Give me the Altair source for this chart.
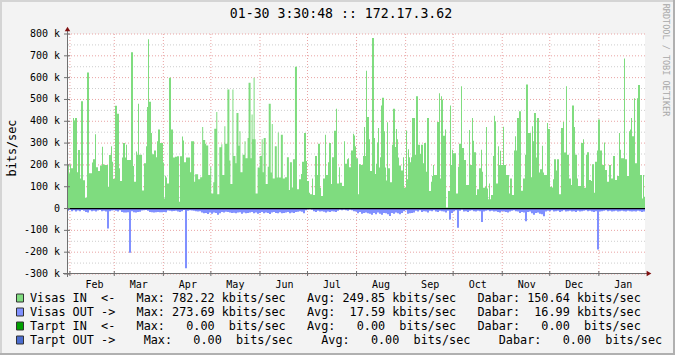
import altair as alt
import pandas as pd

TITLE = "01-30 3:30:48 :: 172.17.3.62"
Y_TITLE = "bits/sec"
WATERMARK = "RRDTOOL / TOBI OETIKER"
MONO = "DejaVu Sans Mono"

# time span of each block of readings (one block ~ 73 days)
PERIOD_EDGES = ["2010-01-30T03:30:48", "2010-04-13T09:30:00", "2010-06-25T15:30:00",
                "2010-09-06T21:30:00", "2010-11-19T03:30:00", "2011-01-30T03:30:48"]

# Visas IN (kbits/sec), read left to right
IN_BLOCK_1 = [238, 200, 162, 203, 185, 185, 415, 403, 415, 415, 166, 268, 268, 138, 492, 492, 130, 130, 49, 49,
              623, 623, 162, 162, 162, 211, 226, 226, 341, 189, 189, 172, 172, 197, 197, 283, 203, 200, 200, 200,
              200, 100, 245, 245, 285, 215, 135, 135, 471, 471, 434, 434, 185, 126, 126, 234, 300, 300, 234, 292,
              222, 222, 222, 222, 716, 716, 195, 123, 123, 262, 246, 480, 246, 246, 246, 83, 83, 208, 208, 285,
              465, 776, 490, 490, 346, 249, 249, 266, 266, 235, 308, 362, 362, 300, 300, 300, 211, 46, 150, 142,
              115, 115, 600, 600, 362, 362, 234, 234, 237, 237, 240, 240, 31, 240, 240, 330]
IN_BLOCK_2 = [312, 212, 212, 234, 234, 234, 234, 166, 308, 308, 308, 123, 157, 157, 157, 134, 134, 143, 143, 374,
              314, 314, 297, 289, 289, 154, 154, 192, 69, 69, 120, 366, 366, 443, 65, 65, 281, 281, 295, 154,
              154, 377, 297, 297, 546, 546, 220, 112, 112, 546, 241, 241, 208, 438, 438, 288, 354, 166, 166, 246,
              246, 308, 231, 231, 323, 577, 577, 231, 431, 318, 600, 318, 69, 69, 188, 188, 241, 241, 318, 166,
              323, 323, 112, 112, 192, 480, 480, 165, 388, 138, 138, 285, 285, 142, 349, 142, 142, 338, 338, 138,
              138, 143, 143, 235, 235, 85, 212, 212, 97, 226, 226, 650, 650, 88, 88]
IN_BLOCK_3 = [134, 134, 158, 215, 215, 346, 346, 218, 126, 126, 72, 66, 66, 138, 62, 62, 241, 241, 154, 297,
              297, 95, 57, 57, 138, 138, 338, 154, 154, 212, 300, 300, 112, 235, 235, 357, 357, 457, 115, 115,
              189, 118, 118, 103, 103, 308, 205, 205, 226, 231, 189, 189, 266, 266, 343, 335, 285, 231, 231, 65,
              203, 203, 200, 200, 241, 374, 241, 631, 420, 420, 318, 172, 172, 782, 782, 323, 158, 205, 303, 369,
              188, 235, 472, 508, 508, 354, 188, 128, 395, 185, 185, 120, 120, 292, 457, 457, 282, 365, 318, 234,
              197, 197, 174, 174, 235, 95, 95, 358, 134, 272, 235, 212, 235, 415, 415, 415]
IN_BLOCK_4 = [246, 515, 515, 292, 292, 251, 292, 292, 208, 300, 300, 169, 415, 415, 80, 80, 123, 149, 200, 154,
              154, 154, 397, 397, 528, 138, 515, 500, 334, 334, 362, 5, 5, 80, 80, 472, 200, 269, 254, 254,
              254, 69, 69, 192, 297, 297, 561, 277, 277, 223, 223, 108, 108, 108, 360, 200, 200, 415, 311, 258,
              258, 62, 88, 88, 185, 185, 269, 169, 95, 95, 100, 374, 92, 43, 115, 43, 62, 62, 241, 425,
              400, 115, 115, 285, 200, 265, 200, 200, 375, 200, 200, 154, 154, 154, 69, 138, 138, 62, 62, 266,
              331, 266, 415, 415, 446, 446, 82, 82, 138, 138, 246, 569, 569, 346, 346, 346]
IN_BLOCK_5 = [143, 377, 308, 438, 438, 234, 415, 415, 165, 180, 180, 288, 165, 154, 154, 154, 392, 365, 365, 100,
              100, 97, 134, 226, 226, 174, 226, 226, 65, 65, 369, 369, 397, 257, 257, 561, 246, 246, 138, 138,
              108, 472, 472, 374, 246, 246, 138, 103, 103, 103, 300, 300, 318, 95, 95, 246, 258, 258, 131, 131,
              126, 203, 203, 72, 215, 215, 266, 408, 408, 266, 266, 200, 200, 303, 177, 177, 123, 123, 200, 200,
              138, 138, 241, 241, 131, 131, 149, 149, 346, 269, 231, 231, 231, 688, 226, 226, 149, 149, 354, 362,
              415, 331, 331, 505, 208, 208, 505, 566, 566, 154, 154, 46, 154, 54]

# Visas OUT (kbits/sec, drawn downwards)
OUT_BLOCK_1 = [10, 6, 12, 8, 14, 9, 12, 7, 10, 16, 18, 8, 12, 10, 14, 9, 7, 12, 10, 14, 92, 12, 9, 8, 10, 13,
               8, 16, 18, 18, 17, 203, 12, 17, 18, 16, 15, 9, 8, 7, 10, 16, 17, 18, 17, 16, 17, 17, 16, 17, 9,
               10, 12, 11, 10, 14, 16, 12]
OUT_BLOCK_2 = [7, 274, 10, 8, 9, 10, 12, 14, 12, 18, 22, 20, 25, 18, 24, 18, 20, 28, 22, 16, 18, 15, 16, 18, 20,
               19, 22, 18, 17, 24, 18, 22, 20, 18, 16, 22, 18, 24, 20, 16, 22, 18, 20, 25, 18, 16, 20, 22, 17,
               22, 20, 18, 16, 22, 18, 20, 16, 15]
OUT_BLOCK_3 = [12, 15, 22, 8, 4, 3, 5, 12, 16, 10, 14, 12, 15, 18, 14, 16, 12, 14, 16, 10, 6, 8, 5, 8, 10, 6,
               8, 12, 14, 22, 16, 24, 20, 18, 22, 24, 28, 20, 26, 18, 24, 28, 20, 22, 26, 34, 20, 24, 18, 22,
               26, 20, 12, 8, 24, 22, 20, 18]
OUT_BLOCK_4 = [10, 14, 8, 16, 12, 14, 18, 10, 12, 8, 14, 16, 10, 12, 14, 18, 10, 50, 20, 12, 8, 88, 10, 6, 14,
               12, 16, 10, 8, 12, 14, 10, 12, 62, 14, 10, 8, 12, 10, 14, 12, 16, 18, 12, 14, 16, 18, 14, 10, 8,
               12, 14, 20, 16, 18, 58, 16, 14]
OUT_BLOCK_5 = [22, 28, 20, 18, 24, 26, 35, 14, 10, 12, 8, 14, 12, 10, 16, 12, 8, 14, 12, 10, 14, 12, 16, 10,
               14, 12, 10, 8, 12, 10, 14, 16, 12, 188, 14, 12, 10, 8, 12, 10, 14, 12, 10, 14, 12, 10, 12, 14,
               10, 12, 14, 12, 14, 10, 12, 16, 14]

Y_MAJOR = [-300, -200, -100, 0, 100, 200, 300, 400, 500, 600, 700, 800]
Y_LABELS = ["-300 k", "-200 k", "-100 k", "0", "100 k", "200 k", "300 k", "400 k", "500 k", "600 k", "700 k",
            "800 k"]
Y_MINOR = [-250, -150, -50, 50, 150, 250, 350, 450, 550, 650, 750]
MONTH_STARTS = ["2010-02-01", "2010-03-01", "2010-04-01", "2010-05-01", "2010-06-01", "2010-07-01",
                "2010-08-01", "2010-09-01", "2010-10-01", "2010-11-01", "2010-12-01", "2011-01-01"]

LEGEND_ROWS = [
    "Visas IN  <-   Max: 782.22 kbits/sec   Avg: 249.85 kbits/sec   Dabar: 150.64 kbits/sec",
    "Visas OUT ->   Max: 273.69 kbits/sec   Avg:  17.59 kbits/sec   Dabar:  16.99 kbits/sec",
    "Tarpt IN  <-   Max:   0.00  bits/sec   Avg:   0.00  bits/sec   Dabar:   0.00  bits/sec",
    "Tarpt OUT ->    Max:   0.00  bits/sec    Avg:   0.00  bits/sec    Dabar:   0.00  bits/sec",
]
LEGEND_COLORS = ["#7FDC7F", "#8090FF", "#00A000", "#4B6CCF"]
IN_COLOR = "#7FDC7F"
OUT_COLOR = "#8090FF"
MGRID = "#E9A3A3"
GRID = "#CDCDCD"


def build(blocks, sign):
    times, vals = [], []
    for b, block in enumerate(blocks):
        t0 = pd.Timestamp(PERIOD_EDGES[b])
        t1 = pd.Timestamp(PERIOD_EDGES[b + 1])
        dt = (t1 - t0) / len(block)
        for i, v in enumerate(block):
            times.append(t0 + dt * i)
            vals.append(sign * v)
    times.append(pd.Timestamp(PERIOD_EDGES[-1]))
    vals.append(sign * blocks[-1][-1])
    return pd.DataFrame({"t": [t.strftime("%Y-%m-%dT%H:%M:%S") for t in times], "v": vals, "b": 0})


in_df = build([IN_BLOCK_1, IN_BLOCK_2, IN_BLOCK_3, IN_BLOCK_4, IN_BLOCK_5], 1)
out_df = build([OUT_BLOCK_1, OUT_BLOCK_2, OUT_BLOCK_3, OUT_BLOCK_4, OUT_BLOCK_5], -1)

x_scale = alt.Scale(domain=[alt.DateTime(year=2010, month=1, date=30, hours=3, minutes=30, seconds=48),
                            alt.DateTime(year=2011, month=1, date=30, hours=3, minutes=30, seconds=48)])
y_scale = alt.Scale(domain=[-300, 800], nice=False, zero=False)

X = alt.X("t:T", scale=x_scale, title=None,
          axis=alt.Axis(values=[alt.DateTime(year=int(m[:4]), month=int(m[5:7]), date=1) for m in MONTH_STARTS],
                        format="%b", labelOffset=24, ticks=False, domain=False, grid=False,
                        labelFont=MONO, labelFontSize=10, labelColor="#000", labelPadding=5,
                        labelFlush=False, labelOverlap=False, labelBound=False))


def yv(field="v"):
    return alt.Y(field + ":Q", scale=y_scale, axis=None)


one = pd.DataFrame({"k": [0]})

minor = alt.Chart(pd.DataFrame({"v": Y_MINOR})).mark_rule(
    color=GRID, strokeWidth=1, strokeDash=[1, 2]).encode(y=yv())
major = alt.Chart(pd.DataFrame({"v": Y_MAJOR})).mark_rule(
    color=MGRID, strokeWidth=1, strokeDash=[1, 2]).encode(y=yv())
vgrid = alt.Chart(pd.DataFrame({"t": [m + "T00:00:00" for m in MONTH_STARTS]})).mark_rule(
    color=MGRID, strokeWidth=1, strokeDash=[1, 2]).encode(x=alt.X("t:T", scale=x_scale))

area_in = alt.Chart(in_df).mark_area(interpolate="step-after", color=IN_COLOR, opacity=1).encode(
    x=X, y=yv(), y2="b:Q")
area_out = alt.Chart(out_df).mark_area(interpolate="step-after", color=OUT_COLOR, opacity=1).encode(
    x=alt.X("t:T", scale=x_scale), y=yv(), y2="b:Q")

zero = alt.Chart(pd.DataFrame({"v": [0]})).mark_rule(color="#000000", strokeWidth=1.3).encode(y=yv())

AXIS_C = "#707070"
yaxis = alt.Chart(one).mark_rule(color=AXIS_C, strokeWidth=1).encode(
    x=alt.value(0.5), y=alt.value(-4), y2=alt.value(243))
xaxis = alt.Chart(one).mark_rule(color=AXIS_C, strokeWidth=1).encode(
    x=alt.value(-4), x2=alt.value(580), y=alt.value(239.5))
yticks = alt.Chart(pd.DataFrame({"v": Y_MAJOR})).mark_rule(color=AXIS_C, strokeWidth=1).encode(
    y=yv(), x=alt.value(-3), x2=alt.value(3))
ylabels = alt.Chart(pd.DataFrame({"v": Y_MAJOR, "lab": Y_LABELS})).mark_text(
    font=MONO, fontSize=10, align="right", baseline="middle", color="#000000").encode(
    y=yv(), x=alt.value(-7), text="lab:N")
xticks = alt.Chart(pd.DataFrame({"t": [m + "T00:00:00" for m in MONTH_STARTS]})).mark_rule(
    color=AXIS_C, strokeWidth=1).encode(x=alt.X("t:T", scale=x_scale), y=alt.value(237), y2=alt.value(242))
arrow_up = alt.Chart(one).mark_point(shape="triangle-up", filled=True, size=30, color="#801010", opacity=1).encode(
    x=alt.value(0.5), y=alt.value(-5))
arrow_right = alt.Chart(one).mark_point(shape="triangle-right", filled=True, size=30, color="#801010",
                                        opacity=1).encode(x=alt.value(582), y=alt.value(239.5))


def text(s, x, y, size, align="center", angle=0, color="#000000"):
    return alt.Chart(one).mark_text(text=s, font=MONO, fontSize=size, align=align, baseline="middle",
                                    angle=angle, color=color).encode(x=alt.value(x), y=alt.value(y))


def rect(x1, x2, y1, y2, fill, stroke=None):
    kw = dict(fill=fill, opacity=1)
    if stroke:
        kw.update(stroke=stroke, strokeWidth=1)
    else:
        kw.update(strokeWidth=0)
    return alt.Chart(one).mark_rect(**kw).encode(
        x=alt.value(x1), x2=alt.value(x2), y=alt.value(y1), y2=alt.value(y2))


layers = [minor, major, vgrid, area_in, area_out, zero, yaxis, xaxis, yticks, ylabels, xticks, arrow_up,
          arrow_right,
          text(TITLE, 274, -20, 13.2),
          text(Y_TITLE, -55, 114, 11.8, angle=270),
          text(WATERMARK, 599, 26, 8.5, angle=90, color="#A8A8A8")]

for i, (row, col) in enumerate(zip(LEGEND_ROWS, LEGEND_COLORS)):
    yc = 264 + 14 * i
    layers.append(rect(-50.5, -43.5, yc - 4, yc + 4, col, "#333333"))
    layers.append(text(row.replace(" ", "\u00a0"), -37, yc, 11.8, align="left"))

# outer bevel
layers += [rect(-67, -65, -34, 321, "#D4D4D4"), rect(-67, 608, -34, -32, "#D4D4D4"),
           rect(606, 608, -34, 321, "#B0B0B0"), rect(-67, 608, 319, 321, "#B0B0B0")]

chart = alt.layer(*layers).properties(
    width=578, height=240,
    padding={"left": 67, "top": 34, "right": 30, "bottom": 81},
    autosize=alt.AutoSizeParams(type="none"),
    background="#F3F3F3",
).configure_view(stroke=None, fill="white")

chart.save("out.html", embed_options={"renderer": "svg", "actions": False})
